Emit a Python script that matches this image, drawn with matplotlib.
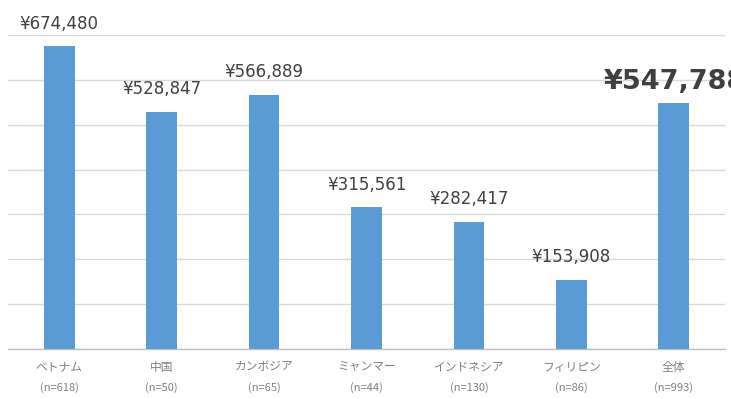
import matplotlib
matplotlib.use("Agg")
import matplotlib.pyplot as plt

plt.rcParams['font.family'] = ['Noto Sans CJK JP', 'DejaVu Sans']

categories = ["ベトナム", "中国", "カンボジア", "ミャンマー", "インドネシア", "フィリピン", "全体"]
sample_sizes = ["(n=618)", "(n=50)", "(n=65)", "(n=44)", "(n=130)", "(n=86)", "(n=993)"]
values = [674480, 528847, 566889, 315561, 282417, 153908, 547788]

fig = plt.figure(figsize=(7.31, 3.99), dpi=100)
ax = fig.add_axes([8 / 731, 1 - 349 / 399, 717 / 731, 314 / 399])

x = list(range(len(categories)))
bar_color = "#5B9BD5"
ax.bar(x, values, width=0.3, color=bar_color, zorder=3)

ax.set_xlim(-0.5, len(categories) - 0.5)
ax.set_ylim(0, 700000)
ax.set_yticks(range(0, 700001, 100000))
ax.yaxis.grid(True, color="#d9d9d9", linewidth=1.0, zorder=0)
ax.tick_params(axis="y", length=0, labelleft=False)
ax.tick_params(axis="x", length=0, labelbottom=False)
for side in ("top", "right", "left"):
    ax.spines[side].set_visible(False)
ax.spines["bottom"].set_color("#bfbfbf")
ax.spines["bottom"].set_linewidth(1.0)

# value labels above each bar; the overall figure is emphasised
for i, v in enumerate(values):
    label = f"¥{v:,}"
    if i == len(values) - 1:
        ax.annotate(label, (i, v), xytext=(1, 6), textcoords="offset points",
                    ha="center", va="bottom", fontsize=19.5, fontweight="bold",
                    color="#404040", family="DejaVu Sans", annotation_clip=False)
    else:
        ax.annotate(label, (i, v), xytext=(0, 10), textcoords="offset points",
                    ha="center", va="bottom", fontsize=12, color="#404040",
                    family="DejaVu Sans", annotation_clip=False)

# category names with sample sizes underneath
for i, (name, n) in enumerate(zip(categories, sample_sizes)):
    ax.annotate(name, (i, 0), xytext=(0, -13), textcoords="offset points",
                ha="center", va="center", fontsize=8.5, color="#808080",
                annotation_clip=False)
    ax.annotate(n, (i, 0), xytext=(0, -28), textcoords="offset points",
                ha="center", va="center", fontsize=8, color="#808080",
                annotation_clip=False)

fig.savefig("out.png", dpi=100)
